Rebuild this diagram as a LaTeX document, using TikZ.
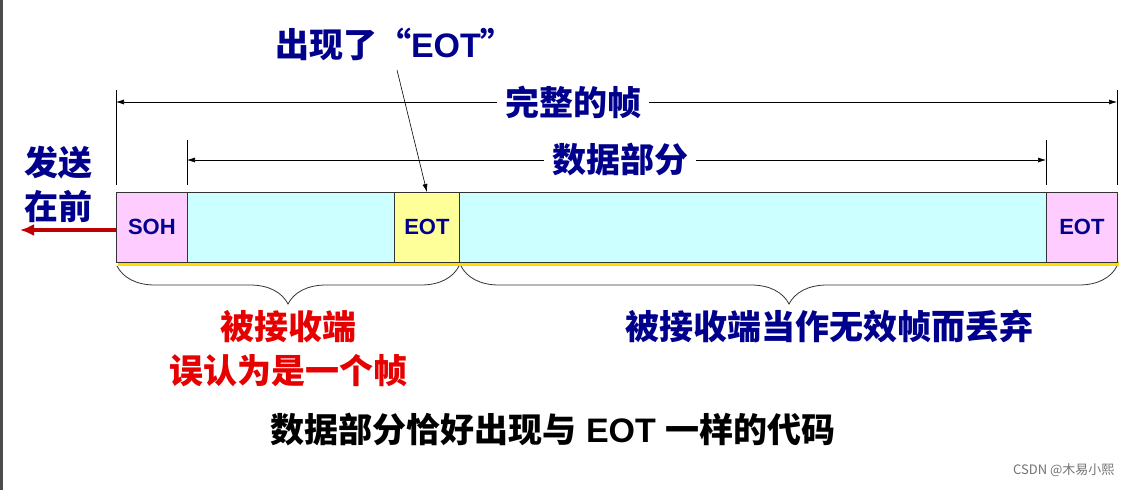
\documentclass[tikz,border=0pt]{standalone}
\usepackage{fontspec}
\setmainfont{Liberation Sans}
\newfontfamily\cjk{Noto Sans CJK SC}
\usetikzlibrary{decorations.pathreplacing,arrows.meta}
\definecolor{navy}{RGB}{0,0,140}
\definecolor{pinkf}{RGB}{255,204,255}
\definecolor{cyanf}{RGB}{204,255,255}
\definecolor{yelf}{RGB}{255,255,153}
\definecolor{redt}{RGB}{230,0,0}
\tikzset{
 fld/.style={draw=black!80,line width=0.8pt,minimum height=70pt,inner sep=0pt,font=\bfseries\fontsize{22}{22}\selectfont,text=navy},
 dim/.style={line width=0.6pt,-{Latex[length=8pt,width=5pt]}},
 tick/.style={line width=0.8pt},
 lbl/.style={font=\cjk\bfseries\fontsize{34}{40}\selectfont,text=navy,fill=white,inner sep=8pt},
 brc/.style={decorate,decoration={brace,mirror,amplitude=38pt,aspect=0.5},line width=0.8pt,black!80},
}
\begin{document}
\begin{tikzpicture}[x=1pt,y=-1pt]
\useasboundingbox (0,0) rectangle (1129,490);
\fill[white] (0,0) rectangle (1129,490);
\draw[line width=3pt,black!70] (1.5,0) -- (1.5,490);
% frame
\fill[yellow!80!orange] (118,261) rectangle (1119,266);
\node[fld,fill=pinkf,minimum width=71pt,anchor=north west] (soh) at (116,192) {SOH};
\node[fld,fill=cyanf,minimum width=207pt,anchor=north west] (d1) at (187,192) {};
\node[fld,fill=yelf,minimum width=65pt,anchor=north west] (eot1) at (394,192) {EOT};
\node[fld,fill=cyanf,minimum width=587pt,anchor=north west] (d2) at (459,192) {};
\node[fld,fill=pinkf,minimum width=71pt,anchor=north west] (eot2) at (1046,192) {EOT};
% dimension lines
\coordinate (fa) at (116,102); \coordinate (fb) at (1117,102);
\draw[tick] (116,90) -- (116,185); \draw[tick] (1117,90) -- (1117,185);
\draw[dim] (573,102) -- (fa); \draw[dim] (573,102) -- (fb);
\node[lbl] (full) at (573,102) {完整的帧};
\coordinate (da) at (187,160); \coordinate (db) at (1046,160);
\draw[tick] (187,140) -- (187,185); \draw[tick] (1046,140) -- (1046,185);
\draw[dim] (620,160) -- (da); \draw[dim] (620,160) -- (db);
\node[lbl] (data) at (620,160) {数据部分};
% title
\node[font=\bfseries\fontsize{34}{40}\selectfont,text=navy] (ttl) at (395,44) {{\cjk 出现了“}EOT{\cjk ”}};
\draw[line width=0.6pt,-{Latex[length=8pt,width=5pt]}] (397,70) -- (eot1.north);
% send first
\node[font=\cjk\bfseries\fontsize{34}{44}\selectfont,text=navy,align=center] (send) at (58,184) {发送\\在前};
\coordinate (sendend) at (20,230);
\draw[line width=3.5pt,red!75!black,-{Latex[length=14pt,width=12pt]}] (116,230) -- (sendend);
% braces
\draw[brc] (117,266) -- (459,266) node[midway,below=44pt,font=\cjk\bfseries\fontsize{34}{44}\selectfont,text=redt,align=center,inner sep=0pt] (mis) {被接收端\\误认为是一个帧};
\draw[brc] (461,266) -- (1117,266) node[midway,below=44pt,font=\cjk\bfseries\fontsize{34}{40}\selectfont,text=navy,inner sep=0pt,xshift=40pt] (drop) {被接收端当作无效帧而丢弃};
% caption
\node[font=\bfseries\fontsize{34}{40}\selectfont,text=black] (cap) at (553,430) {{\cjk 数据部分恰好出现与}\ EOT\ {\cjk 一样的代码}};
\node[font=\cjk\fontsize{13}{14}\selectfont,text=black!55,anchor=east] (wm) at (1118,470) {CSDN @木易小熙};
\end{tikzpicture}
\end{document}
